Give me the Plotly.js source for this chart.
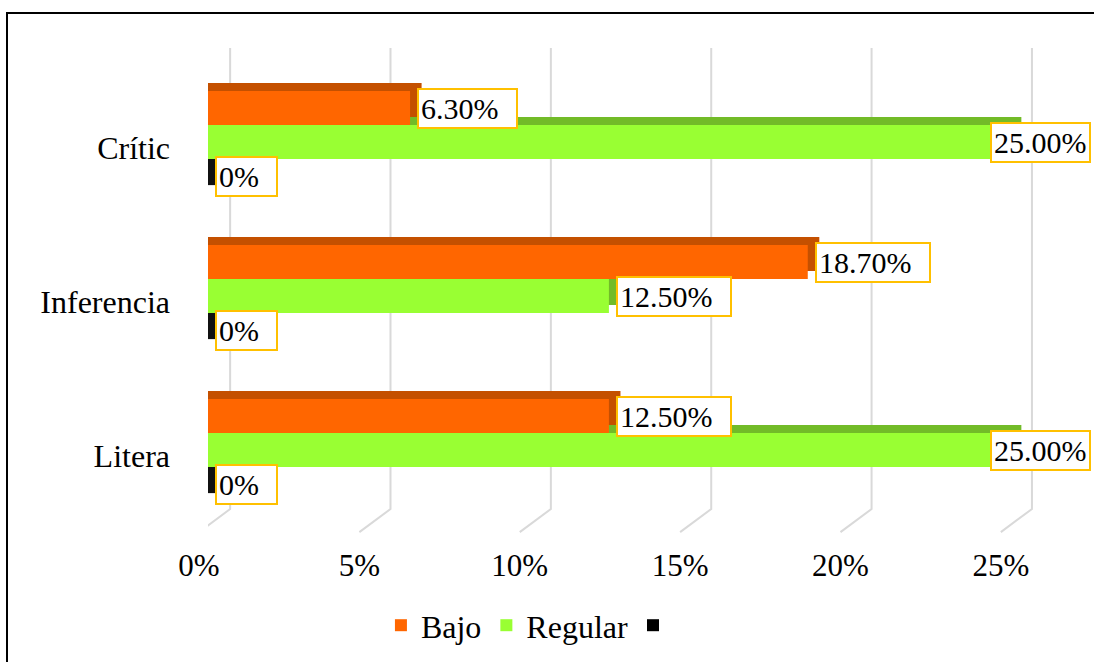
<!DOCTYPE html>
<html>
<head>
<meta charset="utf-8">
<script src="https://cdn.plot.ly/plotly-3.0.1.min.js"></script>
<style>
  html, body { margin: 0; padding: 0; background: #fff; }
  #wrap { position: relative; width: 1094px; height: 662px; overflow: hidden; }
  #chart { width: 1094px; height: 662px; }
  #frame { position: absolute; left: 6px; top: 12px; width: 1200px; height: 800px;
           border: 2px solid #000; pointer-events: none; }
</style>
</head>
<body>
<div id="wrap"><div id="chart"></div><div id="frame"></div></div>
<script>
// ---- data ----
const categories = ['Litera', 'Inferencia', 'Crític'];
const seriesNames = ['Bajo', 'Regular', ''];
const bajo = [12.5, 18.7, 6.3];
const regular = [25.0, 12.5, 25.0];
const tercero = [0, 0, 0];
const tickVals = [0, 5, 10, 15, 20, 25];
const tickText = ['0%', '5%', '10%', '15%', '20%', '25%'];

// ---- style ----
const FONT = 'Liberation Serif, Times New Roman, serif';
const frontColors = ['#FF6600', '#99FF33', '#000000'];
const depthColors = ['#C45000', '#72BB28', '#111111'];
const barW = 0.221;                 // bar thickness in category units
const offsets = [0.149, -0.072, -0.293];
const depthX = 0.36;                // extrusion to the right (in %)
const depthY = 0.052;               // extrusion upwards (category units)

const M = {l: 208, r: 4, t: 71, b: 129};

const values = [bajo, regular, tercero];
const traces = [];
// depth (3D side/top faces) first
values.forEach((vals, i) => {
  traces.push({
    type: 'bar', orientation: 'h', y: categories,
    x: vals.map(v => v + depthX),
    width: barW, offset: offsets[i] + depthY,
    marker: {color: depthColors[i], line: {width: 0}},
    showlegend: false, hoverinfo: 'skip'
  });
});
// front faces
values.forEach((vals, i) => {
  traces.push({
    type: 'bar', orientation: 'h', y: categories, x: vals,
    name: seriesNames[i],
    width: barW, offset: offsets[i],
    marker: {color: frontColors[i], line: {width: 0}},
    hoverinfo: 'x+name'
  });
});

const fmt = v => v === 0 ? '0%' : v.toFixed(2) + '%';
const annotations = [];
values.forEach((vals, i) => {
  vals.forEach((v, j) => {
    const atEdge = v >= 24;
    annotations.push({
      xref: 'x', yref: 'y',
      x: v, y: j + offsets[i] + barW / 2,
      text: fmt(v) + (atEdge ? '' : '\u00a0\u00a0'),
      showarrow: false, xanchor: 'left', yanchor: 'middle',
      xshift: atEdge ? -20 : 7,
      font: {family: FONT, size: 30, color: '#000'},
      bgcolor: '#FFFFFF', bordercolor: '#FFC000', borderwidth: 2, borderpad: 2,
      align: 'left'
    });
  });
});

// 3D-looking gridlines (back wall vertical + floor slant)
const shapes = tickVals.map(t => ({
  type: 'path', xref: 'x', yref: 'paper', layer: 'below',
  path: `M ${t + 0.69},1.05 L ${t + 0.69},0.052 L ${t - 0.28},0.002`,
  line: {color: '#D9D9D9', width: 2}
}));

const layout = {
  width: 1094, height: 662,
  margin: M,
  paper_bgcolor: '#FFFFFF', plot_bgcolor: 'rgba(0,0,0,0)',
  barmode: 'overlay',
  font: {family: FONT, size: 30, color: '#000'},
  xaxis: {
    range: [0, 27.5], tickmode: 'array', tickvals: tickVals, ticktext: tickText,
    showgrid: false, zeroline: false, showline: false, ticks: '',
    ticklabelshift: -9, ticklabelstandoff: 11,
    tickfont: {family: FONT, size: 31, color: '#000'}, fixedrange: true
  },
  yaxis: {
    type: 'category', categoryorder: 'array', categoryarray: categories,
    range: [-0.5, 2.5], showgrid: false, zeroline: false, showline: false, ticks: '',
    ticklabelstandoff: 37,
    tickfont: {family: FONT, size: 32, color: '#000'}, fixedrange: true
  },
  legend: {
    orientation: 'h', x: 0.365, xanchor: 'center', y: -0.2, yanchor: 'middle',
    font: {family: FONT, size: 32, color: '#000'}, bgcolor: 'rgba(0,0,0,0)'
  },
  annotations: annotations,
  shapes: shapes
};

Plotly.newPlot('chart', traces, layout, {displayModeBar: false, staticPlot: true});
</script>
</body>
</html>
